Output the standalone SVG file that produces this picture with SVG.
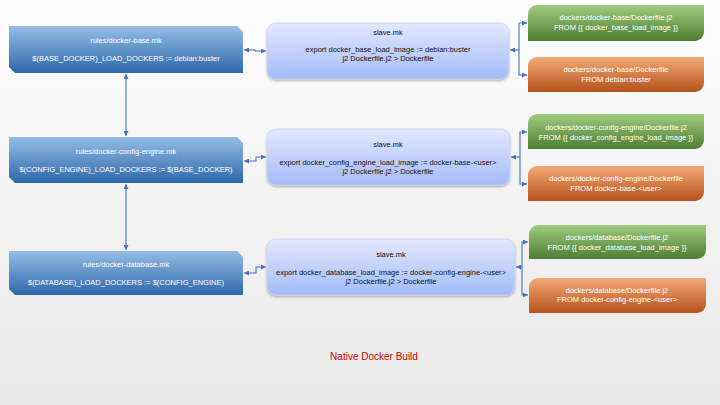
<svg xmlns="http://www.w3.org/2000/svg" width="720" height="405" viewBox="0 0 720 405">
<defs>
<linearGradient id="bg" x1="0" y1="0" x2="0" y2="1"><stop offset="0" stop-color="#fdfdfd"/><stop offset="1" stop-color="#e9e9e9"/></linearGradient>
<linearGradient id="gBlue" x1="0" y1="0" x2="0" y2="1"><stop offset="0" stop-color="#95bde6"/><stop offset="1" stop-color="#2e68a8"/></linearGradient>
<linearGradient id="gSlave" x1="0" y1="0" x2="0" y2="1"><stop offset="0" stop-color="#e3e9fd"/><stop offset="1" stop-color="#a3bbf9"/></linearGradient>
<linearGradient id="gGreen" x1="0" y1="0" x2="0" y2="1"><stop offset="0" stop-color="#a0cc7e"/><stop offset="1" stop-color="#4d7e33"/></linearGradient>
<linearGradient id="gOrange" x1="0" y1="0" x2="0" y2="1"><stop offset="0" stop-color="#f3aa76"/><stop offset="1" stop-color="#b5521a"/></linearGradient>
<filter id="sh" x="-10%" y="-20%" width="120%" height="150%"><feDropShadow dx="0" dy="1.5" stdDeviation="1.2" flood-color="#000" flood-opacity="0.3"/></filter>
<marker id="ah" viewBox="0 0 8 8" refX="8" refY="4" markerWidth="5" markerHeight="5" markerUnits="userSpaceOnUse" orient="auto-start-reverse"><path d="M0,0 L8,4 L0,8 Z" fill="#4472c4"/></marker>
</defs>
<style>
text{font-family:"Liberation Sans",Arial,sans-serif;font-size:7.5px;text-anchor:middle}
.w{fill:#ffffff}
.k{fill:#111111}
.blue{fill:url(#gBlue)}
.slave{fill:url(#gSlave);stroke:#c9d3ee;stroke-width:0.8;filter:url(#sh)}
.green{fill:url(#gGreen)}
.orange{fill:url(#gOrange)}
.c{fill:none;stroke:#4472c4;stroke-width:1.1}
.bi{marker-start:url(#ah);marker-end:url(#ah)}
.one{marker-end:url(#ah)}
</style>
<rect width="720" height="405" fill="url(#bg)"/>

<g id="rules-base">
<path class="blue" d="M9,26 H237 L243,32 V73 H15 L9,67 Z"/>
<text class="w" x="126" y="43">rules/docker-base.mk</text>
<text class="w" x="126" y="61">$(BASE_DOCKER)_LOAD_DOCKERS := debian:buster</text>
</g>
<g id="rules-config-engine">
<path class="blue" d="M9,137 H237 L243,143 V183 H15 L9,177 Z"/>
<text class="w" x="126" y="154">rules/docker-config-engine.mk</text>
<text class="w" x="126" y="172">$(CONFIG_ENGINE)_LOAD_DOCKERS := $(BASE_DOCKER)</text>
</g>
<g id="rules-database">
<path class="blue" d="M9,251 H237 L243,257 V295 H15 L9,289 Z"/>
<text class="w" x="126" y="267">rules/docker-database.mk</text>
<text class="w" x="126" y="285">$(DATABASE)_LOAD_DOCKERS := $(CONFIG_ENGINE)</text>
</g>

<g id="slave-1">
<rect class="slave" x="267" y="23" width="242" height="56" rx="9"/>
<text class="k" x="388" y="35">slave.mk</text>
<text class="k" x="388" y="52">export docker_base_load_image := debian:buster</text>
<text class="k" x="388" y="61">j2 Dockerfile.j2 &gt; Dockerfile</text>
</g>
<g id="slave-2">
<rect class="slave" x="267" y="129" width="243" height="56" rx="9"/>
<text class="k" x="388" y="147">slave.mk</text>
<text class="k" x="388" y="165">export docker_config_engine_load_image := docker-base-&lt;user&gt;</text>
<text class="k" x="388" y="174">j2 Dockerfile.j2 &gt; Dockerfile</text>
</g>
<g id="slave-3">
<rect class="slave" x="267" y="239" width="248" height="56" rx="9"/>
<text class="k" x="391" y="257">slave.mk</text>
<text class="k" x="391" y="275">export docker_database_load_image := docker-config-engine-&lt;user&gt;</text>
<text class="k" x="391" y="284">j2 Dockerfile.j2 &gt; Dockerfile</text>
</g>

<g id="base-j2">
<path class="green" d="M537,5 H704 V32 A9,9 0 0 1 695,41 H528 V14 A9,9 0 0 1 537,5 Z"/>
<text class="w" x="616" y="20">dockers/docker-base/Dockerfile.j2</text>
<text class="w" x="616" y="30">FROM {{ docker_base_load_image }}</text>
</g>
<g id="base-dockerfile">
<path class="orange" d="M537,57 H704 V83 A9,9 0 0 1 695,92 H528 V66 A9,9 0 0 1 537,57 Z"/>
<text class="w" x="616" y="72">dockers/docker-base/Dockerfile</text>
<text class="w" x="616" y="82">FROM debian:buster</text>
</g>
<g id="config-engine-j2">
<path class="green" d="M537,114 H704 V140 A9,9 0 0 1 695,149 H528 V123 A9,9 0 0 1 537,114 Z"/>
<text class="w" x="616" y="130">dockers/docker-config-engine/Dockerfile.j2</text>
<text class="w" x="616" y="140">FROM {{ docker_config_engine_load_image }}</text>
</g>
<g id="config-engine-dockerfile">
<path class="orange" d="M537,166 H704 V192 A9,9 0 0 1 695,201 H528 V175 A9,9 0 0 1 537,166 Z"/>
<text class="w" x="616" y="181">dockers/docker-config-engine/Dockerfile</text>
<text class="w" x="616" y="191">FROM docker-base-&lt;user&gt;</text>
</g>
<g id="database-j2">
<path class="green" d="M538,225 H706 V250 A9,9 0 0 1 697,259 H529 V234 A9,9 0 0 1 538,225 Z"/>
<text class="w" x="617" y="240">dockers/database/Dockerfile.j2</text>
<text class="w" x="617" y="250">FROM {{ docker_database_load_image }}</text>
</g>
<g id="database-dockerfile">
<path class="orange" d="M538,278 H706 V304 A9,9 0 0 1 697,313 H529 V287 A9,9 0 0 1 538,278 Z"/>
<text class="w" x="617" y="293">dockers/database/Dockerfile.j2</text>
<text class="w" x="617" y="302">FROM docker-config-engine-&lt;user&gt;</text>
</g>

<g id="connectors">
<path class="c bi" d="M126,74 V136"/>
<path class="c bi" d="M126,184 V250"/>
<path class="c bi" d="M244,50 H255 V51 H266"/>
<path class="c bi" d="M244,161 H256 V157 H266"/>
<path class="c bi" d="M244,273 H256 V267 H266"/>
<path class="c bi" d="M527,23 H519 V75 H527"/>
<path class="c one" d="M519,50 H510"/>
<path class="c bi" d="M527,132 H520 V184 H527"/>
<path class="c one" d="M520,157 H511"/>
<path class="c bi" d="M528,242 H522 V295 H528"/>
<path class="c one" d="M522,267 H516"/>
</g>

<text x="374" y="360" style="font-size:10px;fill:#cc0000">Native Docker Build</text>
</svg>
